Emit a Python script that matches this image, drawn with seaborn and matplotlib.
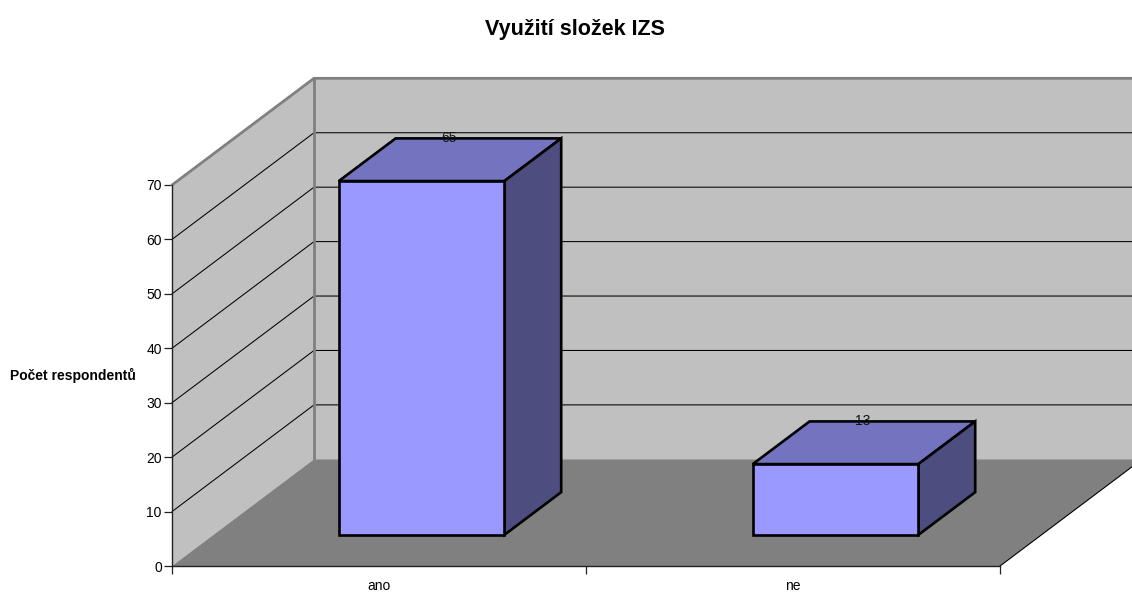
import matplotlib
matplotlib.use('Agg')
import matplotlib.pyplot as plt
import seaborn as sns
from matplotlib.patches import Polygon

categories = ['ano', 'ne']
values = [65, 13]
y_ticks = [0, 10, 20, 30, 40, 50, 60, 70]

title = 'Využití složek IZS'
y_label = 'Počet respondentů'

# Depth of the fake 3D box, in data units of the axes
depth_x = 0.343
depth_y = 19.6
# Where the bars start and end inside that depth
bar_front_x = 0.30
bar_front_y = 0.292
bar_deep = 0.40

wall_color = '#C0C0C0'
floor_color = '#808080'
front_color = '#9999FF'
top_color = '#7373BF'
side_color = '#4D4D80'

sns.set_theme(style='white')
plt.rcParams['font.family'] = ['Liberation Sans', 'DejaVu Sans']

fig = plt.figure(figsize=(11.32, 5.92), dpi=100)
ax = fig.add_axes([172 / 1132, (592 - 566) / 592, 828 / 1132, 381 / 592])
ax.patch.set_visible(False)


def face(points, color, edge='none', lw=0, zorder=1):
    ax.add_patch(Polygon(points, closed=True, facecolor=color, edgecolor=edge, linewidth=lw,
                         clip_on=False, zorder=zorder, joinstyle='miter'))


# Bars through seaborn, then moved into the depth of the box
sns.barplot(x=categories, y=values, width=0.4, color=front_color, saturation=1,
            edgecolor='black', linewidth=1.9, ax=ax, zorder=5)

x0, x1 = -0.5, 1.5
y_top = y_ticks[-1]

# Walls and floor
face([(x0, 0), (x0 + depth_x, depth_y), (x0 + depth_x, y_top + depth_y), (x0, y_top)], wall_color)
face([(x0 + depth_x, depth_y), (x1 + depth_x, depth_y), (x1 + depth_x, y_top + depth_y),
      (x0 + depth_x, y_top + depth_y)], wall_color)
face([(x0, 0), (x1, 0), (x1 + depth_x, depth_y), (x0 + depth_x, depth_y)], floor_color)

# Grid lines on both walls
for t in y_ticks[1:-1]:
    ax.plot([x0, x0 + depth_x, x1 + depth_x], [t, t + depth_y, t + depth_y], color='black', lw=0.75,
            clip_on=False, zorder=2, solid_joinstyle='miter')

# Grey wall borders
ax.plot([x0, x0 + depth_x, x1 + depth_x], [y_top, y_top + depth_y, y_top + depth_y], color=floor_color,
        lw=2, clip_on=False, zorder=3, solid_joinstyle='miter')
ax.plot([x0 + depth_x, x0 + depth_x], [depth_y, y_top + depth_y], color=floor_color, lw=2,
        clip_on=False, zorder=3)
ax.plot([x0 + depth_x, x1 + depth_x], [depth_y, depth_y], color='#A0A0A0', lw=0.8, clip_on=False, zorder=2)
ax.plot([x1, x1 + depth_x], [0, depth_y], color='black', lw=0.8, clip_on=False, zorder=3)

# Move the bars and add top and side faces
deep_x = bar_deep * depth_x
deep_y = bar_deep * depth_y
for patch, value in zip(ax.patches[:len(values)], values):
    patch.set_x(patch.get_x() + bar_front_x * depth_x)
    patch.set_y(patch.get_y() + bar_front_y * depth_y)
    patch.set_clip_on(False)
    left, right = patch.get_x(), patch.get_x() + patch.get_width()
    low, high = patch.get_y(), patch.get_y() + patch.get_height()
    face([(left, high), (right, high), (right + deep_x, high + deep_y), (left + deep_x, high + deep_y)],
         top_color, 'black', 1.9, zorder=4)
    face([(right, low), (right + deep_x, low + deep_y), (right + deep_x, high + deep_y), (right, high)],
         side_color, 'black', 1.9, zorder=4)

# Value labels sit on the back edge of the top face
for i, value in enumerate(values):
    ax.text(i + 0.49 * depth_x, value + 0.7 * depth_y, str(value), ha='center', va='center',
            fontsize=10, color='#111111', zorder=6, clip_on=False)

ax.set_xlim(x0, x1)
ax.set_ylim(0, y_top)
ax.set_yticks(y_ticks)
ax.set_xticks([-0.5, 0.5, 1.5])
ax.set_xticklabels([])
ax.set_xticks(range(len(categories)), labels=categories, minor=True)
ax.set_xlabel('')
ax.tick_params(axis='x', which='major', length=5.5, width=0.9, color='#222222', bottom=True)
ax.tick_params(axis='x', which='minor', length=0, pad=9.5, labelsize=10, labelcolor='black', bottom=False)
ax.tick_params(axis='y', length=5.8, width=0.9, color='#222222', pad=1.5, labelsize=10,
               labelcolor='black', left=True)

for name, spine in ax.spines.items():
    spine.set_visible(name in ('left', 'bottom'))
    spine.set_color('#222222')
    spine.set_linewidth(1)
    spine.set_zorder(3.5)

ax.set_ylabel(y_label, rotation=0, fontsize=10, fontweight='bold', color='black', ha='center', va='center')
ax.yaxis.set_label_coords((73 - 172) / 828, (566 - 375) / 381)

fig.text(575 / 1132, 1 - 29 / 592, title, ha='center', va='center', fontsize=15.5, fontweight='bold',
         color='black')

fig.savefig('out.png', dpi=100, facecolor='white')
